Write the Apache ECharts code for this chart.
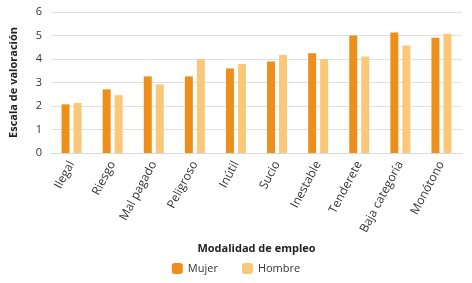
<!DOCTYPE html>
<html><head><meta charset="utf-8">
<script src="https://cdn.jsdelivr.net/npm/echarts@6/dist/echarts.min.js"></script>
<style>html,body{margin:0;padding:0;background:#fff}#c{width:472px;height:283px}</style>
</head><body><div id="c"></div>
<script>
const categories = ['Ilegal','Riesgo','Mal pagado','Peligroso','Inútil','Sucio','Inestable','Tenderete','Baja categoría','Monótono'];
const mujer = [2.07, 2.71, 3.26, 3.26, 3.60, 3.89, 4.24, 5.00, 5.13, 4.90];
const hombre = [2.13, 2.46, 2.92, 4.00, 3.79, 4.17, 4.00, 4.11, 4.57, 5.07];
const yTicks = [0, 1, 2, 3, 4, 5, 6];
const FONT = '"Open Sans", sans-serif';
const chart = echarts.init(document.getElementById('c'), null, {renderer: 'canvas'});
chart.setOption({
  animation: false,
  textStyle: {fontFamily: FONT},
  grid: {left: 48, right: 10, top: 12, bottom: 130},
  legend: {
    data: ['Mujer', 'Hombre'],
    bottom: 4, left: 'center',
    itemWidth: 11, itemHeight: 11, itemGap: 24,
    textStyle: {fontSize: 11, color: '#333', fontFamily: FONT}
  },
  xAxis: {
    type: 'category', data: categories,
    name: 'Modalidad de empleo', nameLocation: 'middle', nameGap: 90,
    nameTextStyle: {fontSize: 11, fontWeight: 'bold', color: '#222', fontFamily: FONT},
    axisLine: {lineStyle: {color: '#d9d9d9'}},
    axisTick: {show: false},
    axisLabel: {rotate: 62, fontSize: 12, color: '#333', margin: 9, interval: 0, fontFamily: FONT}
  },
  yAxis: {
    type: 'value', min: yTicks[0], max: yTicks[yTicks.length-1], interval: 1,
    name: 'Escala de valoración', nameLocation: 'middle', nameGap: 32,
    nameTextStyle: {fontSize: 11, fontWeight: 'bold', color: '#222', fontFamily: FONT},
    axisLabel: {fontSize: 11, color: '#333', margin: 9, fontFamily: FONT},
    axisLine: {show: false}, axisTick: {show: false},
    splitLine: {lineStyle: {color: '#e0e0e0'}}
  },
  series: [
    {name: 'Mujer', type: 'bar', data: mujer, barWidth: 8, barGap: '50%', itemStyle: {color: '#EE8F1C'}},
    {name: 'Hombre', type: 'bar', data: hombre, barWidth: 8, itemStyle: {color: '#FAC878'}}
  ]
});
</script></body></html>
